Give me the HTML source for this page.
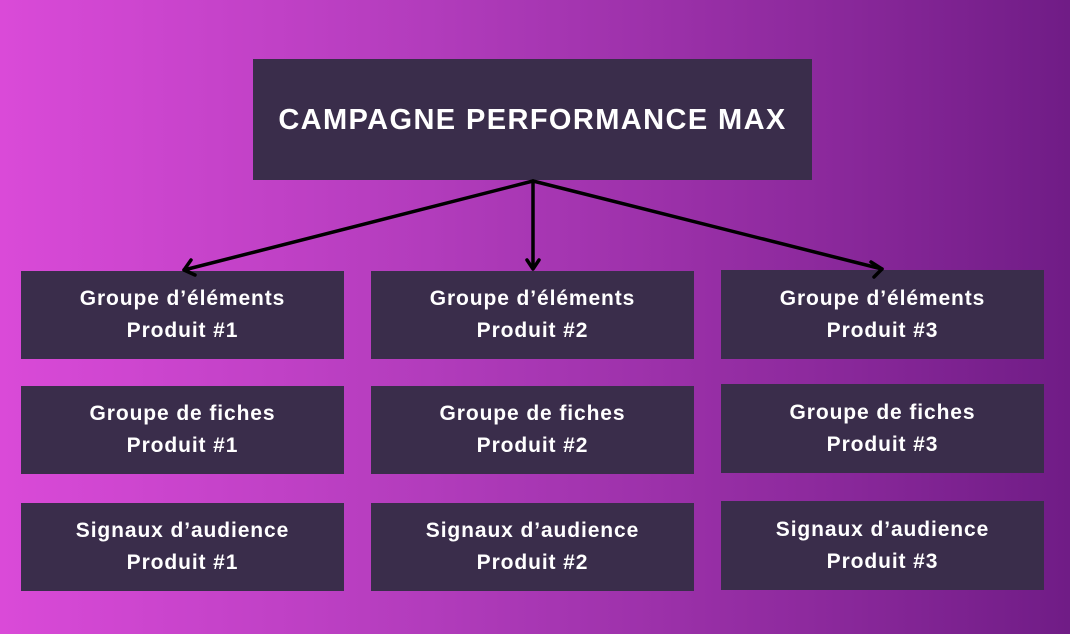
<!DOCTYPE html>
<html><head><meta charset="utf-8"><style>
body{margin:0;width:1070px;height:634px;overflow:hidden;background:linear-gradient(90deg,#da4ad8 0%,#b23cbc 40%,#8e2a9e 75%,#701c86 100%);font-family:"Liberation Sans",sans-serif;position:relative}
.b{position:absolute;background:#3a2d4b;color:#fff;font-weight:bold;font-size:21px;letter-spacing:0.9px;display:flex;flex-direction:column;justify-content:center;align-items:center;line-height:32px;text-align:center}
.t{font-size:29px;letter-spacing:1.4px;line-height:32px}
svg{position:absolute;left:0;top:0}
</style></head><body>
<div class="b t" style="left:253px;top:59px;width:559px;height:121px">CAMPAGNE PERFORMANCE MAX</div>
<div class="b" style="left:21px;top:271px;width:323px;height:88px"><div>Groupe d’éléments</div><div>Produit #1</div></div>
<div class="b" style="left:371px;top:271px;width:323px;height:88px"><div>Groupe d’éléments</div><div>Produit #2</div></div>
<div class="b" style="left:721px;top:270px;width:323px;height:89px"><div>Groupe d’éléments</div><div>Produit #3</div></div>
<div class="b" style="left:21px;top:386px;width:323px;height:88px"><div>Groupe de fiches</div><div>Produit #1</div></div>
<div class="b" style="left:371px;top:386px;width:323px;height:88px"><div>Groupe de fiches</div><div>Produit #2</div></div>
<div class="b" style="left:721px;top:384px;width:323px;height:89px"><div>Groupe de fiches</div><div>Produit #3</div></div>
<div class="b" style="left:21px;top:503px;width:323px;height:88px"><div>Signaux d’audience</div><div>Produit #1</div></div>
<div class="b" style="left:371px;top:503px;width:323px;height:88px"><div>Signaux d’audience</div><div>Produit #2</div></div>
<div class="b" style="left:721px;top:501px;width:323px;height:89px"><div>Signaux d’audience</div><div>Produit #3</div></div>
<svg width="1070" height="634">
<g stroke="#000" stroke-width="3.5" fill="none" stroke-linecap="round" stroke-linejoin="round">
<line x1="533" y1="181" x2="184" y2="270"/>
<line x1="533" y1="181" x2="533" y2="268"/>
<line x1="533" y1="181" x2="882" y2="269"/>
<polyline points="191,260 184,270 195,275"/>
<polyline points="527,260 533,269 539,260"/>
<polyline points="871,262 882,269 874,277"/>
</g></svg>
</body></html>
